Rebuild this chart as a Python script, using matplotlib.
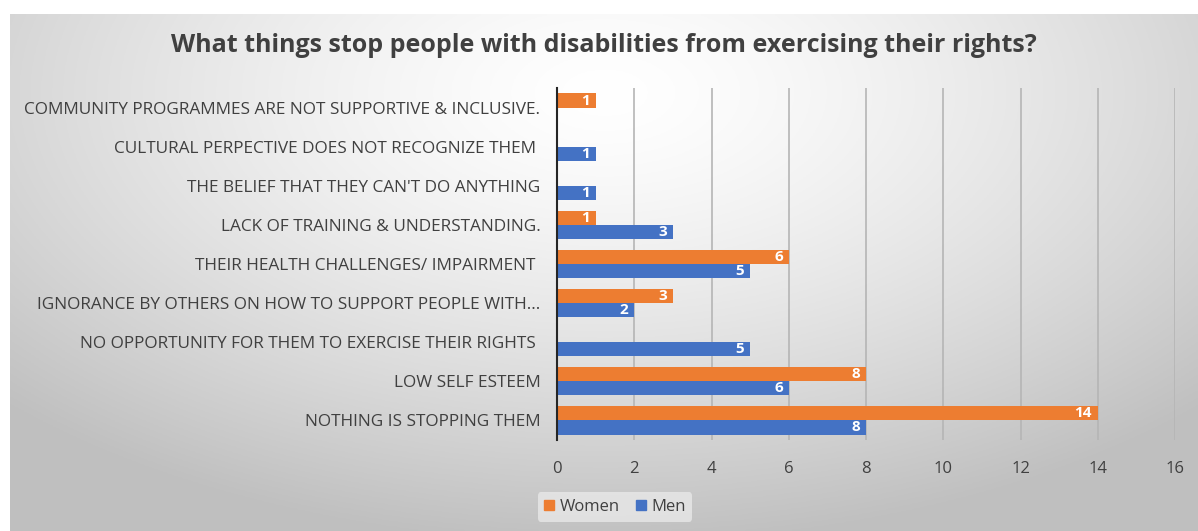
import numpy as np
import matplotlib
matplotlib.use("Agg")
import matplotlib.pyplot as plt
from matplotlib.patches import Patch

categories = [
    "COMMUNITY PROGRAMMES ARE NOT SUPPORTIVE & INCLUSIVE.",
    "CULTURAL PERPECTIVE DOES NOT RECOGNIZE THEM ",
    "THE BELIEF THAT THEY CAN'T DO ANYTHING",
    "LACK OF TRAINING & UNDERSTANDING.",
    "THEIR HEALTH CHALLENGES/ IMPAIRMENT ",
    "IGNORANCE BY OTHERS ON HOW TO SUPPORT PEOPLE WITH...",
    "NO OPPORTUNITY FOR THEM TO EXERCISE THEIR RIGHTS ",
    "LOW SELF ESTEEM",
    "NOTHING IS STOPPING THEM",
]
women = [1, 0, 0, 1, 6, 3, 0, 8, 14]
men = [0, 1, 1, 3, 5, 2, 5, 6, 8]
xticks = [0, 2, 4, 6, 8, 10, 12, 14, 16]

W, H = 1198, 531
fig = plt.figure(figsize=(W / 100, H / 100), dpi=100)
plt.rcParams['font.family'] = ['Open Sans', 'DejaVu Sans']

# background gradient
bg = fig.add_axes([10 / W, 0, 1 - 10 / W, 1 - 14 / H])
bg.set_axis_off()
yy, xx = np.mgrid[0:200, 0:500]
cx, cy = 0.5, 0.15
d = np.sqrt(((xx / 500 - cx) * 1.0) ** 2 + ((yy / 200 - cy) * 0.8) ** 2)
val = 1.0 - 0.25 * np.clip(d / 0.7, 0, 1) ** 1.4
img = np.dstack([val, val, val])
bg.imshow(img, aspect='auto', extent=[0, 1, 0, 1], origin='upper')
bg.set_xlim(0, 1)
bg.set_ylim(0, 1)

ax = fig.add_axes([557 / W, 1 - 440 / H, (1175 - 557) / W, (440 - 88) / H])
ax.set_facecolor('none')
n = len(categories)
y = np.arange(n)[::-1]
h = 0.36
orange = '#ED7D31'
blue = '#4472C4'
bw = ax.barh(y + h / 2, women, height=h, color=orange, label='Women', zorder=3)
bm = ax.barh(y - h / 2, men, height=h, color=blue, label='Men', zorder=3)

for bars, vals in ((bw, women), (bm, men)):
    for b, v in zip(bars, vals):
        if v:
            ax.text(v - 0.15, b.get_y() + b.get_height() / 2, str(v), ha='right',
                    va='center', color='white', fontsize=11, fontweight='bold', zorder=4)

ax.set_xlim(0, 16)
ax.set_ylim(-0.5, n - 0.5)
ax.set_xticks(xticks)
ax.set_xticklabels([str(t) for t in xticks])
ax.set_yticks(y)
ax.set_yticklabels(categories)
ax.tick_params(axis='x', length=0, pad=15, labelsize=12, labelcolor='#404040')
ax.tick_params(axis='y', length=0, pad=12, labelsize=12.4, labelcolor='#404040')
ax.grid(axis='x', color='#B5B5B5', linewidth=1.2, zorder=0)
for s in ('top', 'right', 'bottom'):
    ax.spines[s].set_visible(False)
ax.spines['left'].set_color('#262626')
ax.spines['left'].set_linewidth(1.5)
ax.spines['left'].set_zorder(5)

fig.text(604 / W, 1 - 45 / H, "What things stop people with disabilities from exercising their rights?",
         ha='center', va='center', fontsize=18, fontweight='bold', color='#404040')

handles = [Patch(color=orange, label='Women'), Patch(color=blue, label='Men')]
leg = fig.legend(handles=handles, loc='center', bbox_to_anchor=(615 / W, 1 - 507 / H), ncol=2,
                 frameon=True, fontsize=12, handlelength=0.6, handleheight=0.6,
                 handletextpad=0.3, columnspacing=1.0, borderpad=0.4)
leg.get_frame().set_facecolor('#EDEDED')
leg.get_frame().set_edgecolor('none')
leg.get_frame().set_alpha(0.7)
for t in leg.get_texts():
    t.set_color('#404040')

fig.savefig('out.png', dpi=100)
